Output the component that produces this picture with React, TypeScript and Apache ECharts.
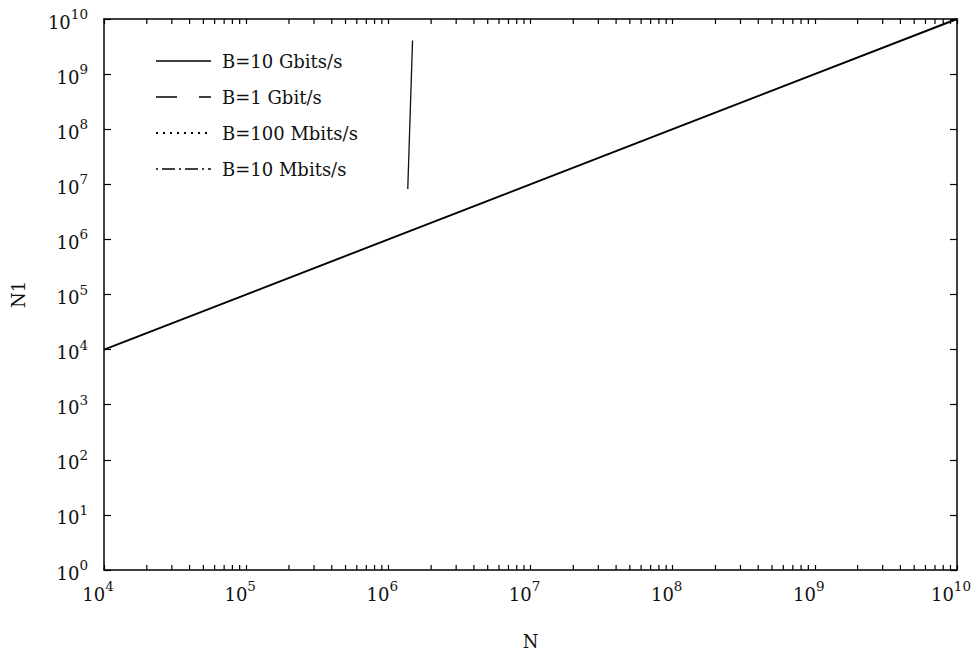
import React, { useEffect, useRef } from "react";
import * as echarts from "echarts";

// Axis ranges (log scale)
const xRange = [1e4, 1e10];
const yRange = [1e0, 1e10];

// Main curve: N1 vs N (B = 10 Gbits/s)
const curveN = [1e4, 1e6, 1e8, 1e10];
const curveN1 = [1e4, 1e6, 1e8, 1e10];

// Short near-vertical stroke
const strokeN = [1.37e6, 1.48e6];
const strokeN1 = [8.2e6, 4.06e9];

// Legend labels
const legendLabels = ["B=10 Gbits/s", "B=1 Gbit/s", "B=100 Mbits/s", "B=10 Mbits/s"];

// Minor tick multipliers and decades on the N axis
const minorMult = [2, 3, 4, 5, 6, 7, 8, 9];
const xDecades = [4, 5, 6, 7, 8, 9];

const SERIF = "DejaVu Serif";

export default function App() {
  const ref = useRef<HTMLDivElement>(null);
  useEffect(() => {
    if (!ref.current) return;
    const chart = echarts.init(ref.current, null, { renderer: "svg" });

    const minorTicks: number[][] = [];
    xDecades.forEach((d) => minorMult.forEach((m) => minorTicks.push([m * Math.pow(10, d), 1])));

    const fmt = (v: number) => {
      const e = Math.round(Math.log10(v));
      return `{b|10}{s|${e}}`;
    };
    const rich = {
      b: { fontFamily: SERIF, fontSize: 18, color: "#111", lineHeight: 24, verticalAlign: "bottom" },
      s: { fontFamily: SERIF, fontSize: 13.5, color: "#111", lineHeight: 24, verticalAlign: "top", padding: [0, 0, 9, 0] },
    };
    const axisLine = { show: true, onZero: false, lineStyle: { color: "#000", width: 1.5 } };

    const legendDash: any[] = [null, [21, 22], [2, 5], [2, 4, 13, 4]];
    const legendWidth = [1.4, 1.4, 2, 1.4];
    const rowsY = [61, 97, 133, 169];
    const legendGraphics: any[] = [];
    legendLabels.forEach((lab, i) => {
      legendGraphics.push({
        type: "line",
        shape: { x1: 156, y1: rowsY[i], x2: 211, y2: rowsY[i] },
        style: { stroke: "#000", lineWidth: legendWidth[i], lineDash: legendDash[i] },
      });
      legendGraphics.push({
        type: "text",
        x: 222,
        y: rowsY[i],
        style: { text: lab, fontFamily: SERIF, fontSize: 18, fill: "#111", textVerticalAlign: "middle", textAlign: "left" },
      });
    });

    const xBase = (position: string, withLabel: boolean) => ({
      type: "log",
      logBase: 10,
      min: xRange[0],
      max: xRange[1],
      interval: 1,
      position,
      axisLine,
      axisTick: { show: true, inside: true, length: 5, lineStyle: { color: "#000", width: 1.2 } },
      axisLabel: withLabel ? { formatter: fmt, rich, margin: 9, padding: [0, 12, 0, 0] } : { show: false },
      splitLine: { show: false },
    });
    const yBase = (position: string, withLabel: boolean) => ({
      type: "log",
      logBase: 10,
      min: yRange[0],
      max: yRange[1],
      interval: 1,
      position,
      axisLine,
      axisTick: { show: true, inside: true, length: 7, lineStyle: { color: "#000", width: 1.2 } },
      axisLabel: withLabel ? { formatter: fmt, rich, margin: 16 } : { show: false },
      splitLine: { show: false },
    });

    chart.setOption({
      animation: false,
      backgroundColor: "#fff",
      grid: { left: 104, top: 19, width: 853, height: 554 },
      xAxis: [
        {
          ...xBase("bottom", true),
          name: "N",
          nameLocation: "middle",
          nameGap: 62,
          nameTextStyle: { fontFamily: SERIF, fontSize: 18, color: "#111" },
        },
        xBase("top", false),
      ],
      yAxis: [
        {
          ...yBase("left", true),
          name: "N1",
          nameLocation: "middle",
          nameGap: 77,
          nameRotate: 90,
          nameTextStyle: { fontFamily: SERIF, fontSize: 18, color: "#111" },
        },
        yBase("right", false),
      ],
      series: [
        {
          name: legendLabels[0],
          type: "line",
          data: curveN.map((n, i) => [n, curveN1[i]]),
          showSymbol: false,
          symbol: "none",
          lineStyle: { color: "#000", width: 1.9 },
        },
        {
          name: "stroke",
          type: "line",
          data: strokeN.map((n, i) => [n, strokeN1[i]]),
          showSymbol: false,
          symbol: "none",
          lineStyle: { color: "#111", width: 1.3 },
        },
        {
          name: "minorTicks",
          type: "custom",
          silent: true,
          clip: false,
          data: minorTicks,
          renderItem: (params: any, api: any) => {
            const x = api.value(0);
            const pb = api.coord([x, yRange[0]]);
            const pt = api.coord([x, yRange[1]]);
            const st = { stroke: "#000", lineWidth: 1.2 };
            return {
              type: "group",
              children: [
                { type: "line", shape: { x1: pb[0], y1: pb[1], x2: pb[0], y2: pb[1] - 5 }, style: st },
                { type: "line", shape: { x1: pt[0], y1: pt[1], x2: pt[0], y2: pt[1] + 5 }, style: st },
              ],
            };
          },
        },
      ],
      graphic: legendGraphics,
    });

    return () => chart.dispose();
  }, []);

  return <div ref={ref} style={{ width: 980, height: 655, position: "fixed", left: 0, top: 0 }} />;
}
